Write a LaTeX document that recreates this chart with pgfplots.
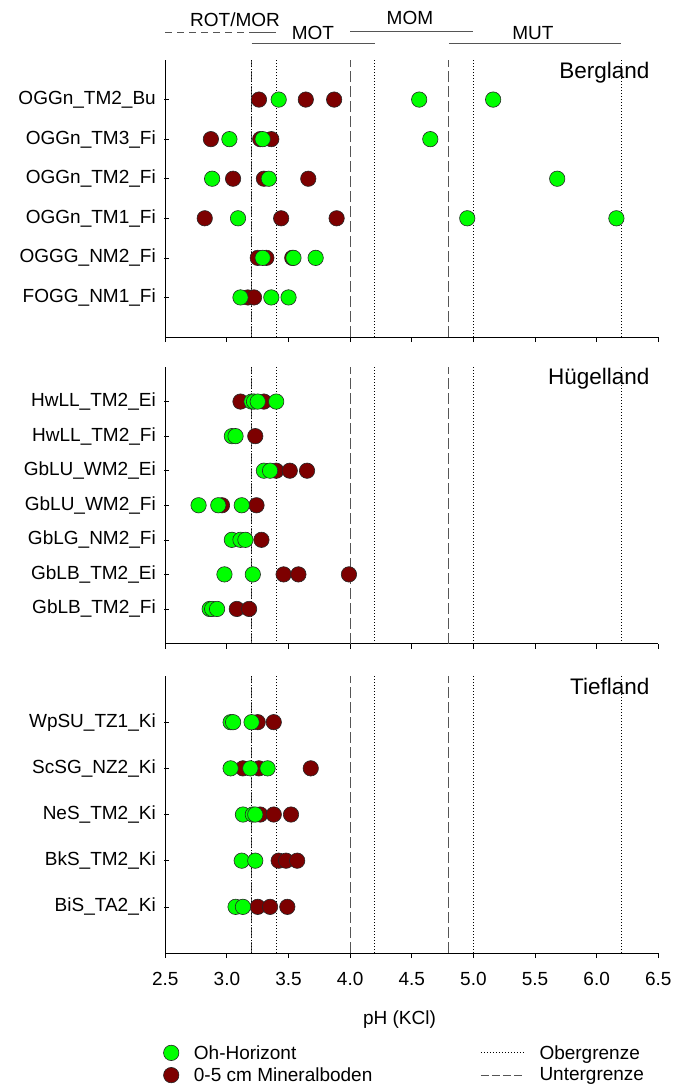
\documentclass[border=0pt]{standalone}
\usepackage{pgfplots}
\pgfplotsset{compat=1.18}
\usepackage{fontspec}
\setmainfont{Liberation Sans}
\definecolor{ohgreen}{RGB}{0,255,0}
\definecolor{minred}{RGB}{125,0,0}
\definecolor{ugray}{RGB}{85,85,85}
\newcommand{\fs}{\fontsize{19}{22}\selectfont}
\newcommand{\fb}{\fontsize{22.5}{26}\selectfont}
\pgfplotsset{
  panel/.style={
    scale only axis, width=493pt,
    xmin=2.5, xmax=6.5,
    axis x line*=bottom, axis y line*=left,
    axis line style={-, line width=1pt, black},
    xtick={2.5,3.0,3.5,4.0,4.5,5.0,5.5,6.0,6.5},
    tick align=inside, major tick length=5pt,
    xtick style={yshift=-5pt, line width=0.9pt, black},
    ytick style={xshift=-1pt, line width=0.6pt, black},
    tick label style={font=\fs},
    yticklabel style={xshift=-6pt},
    clip=false,
  },
  minpt/.style={only marks, mark=*, mark size=7.7pt, mark options={fill=minred, draw=black!85, line width=0.6pt}, forget plot},
  ohpt/.style={only marks, mark=*, mark size=7.7pt, mark options={fill=ohgreen, draw=black!85, line width=0.6pt}, forget plot},
  ober/.style={black, line width=0.9pt, dash pattern=on 1pt off 2pt, forget plot},
  unter/.style={ugray, line width=1.1pt, dash pattern=on 11pt off 4pt, forget plot},
  hdr/.style={ugray, line width=1.1pt, forget plot},
  oberleg/.style={legend image code/.code={\draw[black, line width=0.9pt, dash pattern=on 1pt off 2pt] (0pt,0pt) -- (43pt,0pt);}},
  unterleg/.style={legend image code/.code={\draw[ugray, line width=1.1pt, dash pattern=on 8pt off 3pt] (0pt,0pt) -- (43pt,0pt);}},
}
\newcommand{\reflines}[1]{%
  \addplot[unter] coordinates {(3.2,0) (3.2,#1)};
  \addplot[unter] coordinates {(4.0,0) (4.0,#1)};
  \addplot[unter] coordinates {(4.8,0) (4.8,#1)};
  \addplot[ober] coordinates {(3.2,0) (3.2,#1)};
  \addplot[ober] coordinates {(3.4,0) (3.4,#1)};
  \addplot[ober] coordinates {(4.2,0) (4.2,#1)};
  \addplot[ober] coordinates {(5.0,0) (5.0,#1)};
  \addplot[ober] coordinates {(6.2,0) (6.2,#1)};
}
\begin{document}
\begin{tikzpicture}[font=\fs]
\path[use as bounding box] (0pt,0pt) rectangle (673pt,-1090pt);

% ---------------- Bergland ----------------
\begin{axis}[panel, at={(165.3pt,-337pt)}, anchor=south west, height=277pt,
  ymin=0, ymax=7, ytick={1,2,3,4,5,6},
  yticklabels={FOGG\_NM1\_Fi, OGGG\_NM2\_Fi, OGGn\_TM1\_Fi, OGGn\_TM2\_Fi, OGGn\_TM3\_Fi, OGGn\_TM2\_Bu},
  xticklabel=\empty]
\reflines{7}
\addplot[minpt] coordinates {
 (3.26,6) (3.64,6) (3.87,6)
 (2.87,5) (3.27,5) (3.36,5)
 (3.05,4) (3.30,4) (3.66,4)
 (2.82,3) (3.44,3) (3.89,3)
 (3.25,2) (3.32,2) (3.53,2)
 (3.17,1) (3.22,1)
};
\addplot[ohpt] coordinates {
 (3.42,6) (4.56,6) (5.16,6)
 (3.02,5) (3.29,5) (4.65,5)
 (2.88,4) (3.34,4) (5.68,4)
 (3.09,3) (4.95,3) (6.16,3)
 (3.29,2) (3.54,2) (3.72,2)
 (3.11,1) (3.36,1) (3.50,1)
};
% header zones
\addplot[hdr, dash pattern=on 7pt off 5pt] coordinates {(2.5,7.70) (3.2,7.70)};
\addplot[hdr] coordinates {(3.2,7.70) (3.4,7.70)};
\addplot[hdr] coordinates {(3.2,7.42) (4.2,7.42)};
\addplot[hdr] coordinates {(4.0,7.73) (5.0,7.73)};
\addplot[hdr] coordinates {(4.8,7.42) (6.2,7.42)};
\node[anchor=base, font=\fs] at (axis cs:3.066,7.85) {ROT/MOR};
\node[anchor=base, font=\fs] at (axis cs:3.698,7.523) {MOT};
\node[anchor=base, font=\fs] at (axis cs:4.485,7.89) {MOM};
\node[anchor=base, font=\fs] at (axis cs:5.483,7.523) {MUT};
\node[anchor=base east, font=\fb] at (rel axis cs:0.989,0.935) {Bergland};
\end{axis}

% ---------------- Huegelland ----------------
\begin{axis}[panel, at={(165.3pt,-643.5pt)}, anchor=south west, height=276.5pt,
  ymin=0, ymax=8, ytick={1,2,3,4,5,6,7},
  yticklabels={GbLB\_TM2\_Fi, GbLB\_TM2\_Ei, GbLG\_NM2\_Fi, GbLU\_WM2\_Fi, GbLU\_WM2\_Ei, HwLL\_TM2\_Fi, HwLL\_TM2\_Ei},
  xticklabel=\empty]
\reflines{8}
\addplot[minpt] coordinates {
 (3.11,7) (3.30,7)
 (3.23,6)
 (3.40,5) (3.51,5) (3.65,5)
 (2.96,4) (3.24,4)
 (3.28,3)
 (3.46,2) (3.58,2) (3.99,2)
 (3.08,1) (3.18,1)
};
\addplot[ohpt] coordinates {
 (3.20,7) (3.22,7) (3.25,7) (3.40,7)
 (3.04,6) (3.07,6)
 (3.30,5) (3.35,5)
 (2.77,4) (2.93,4) (3.12,4)
 (3.04,3) (3.11,3) (3.15,3)
 (2.98,2) (3.21,2)
 (2.86,1) (2.88,1) (2.92,1)
};
\node[anchor=base east, font=\fb] at (rel axis cs:0.989,0.935) {Hügelland};
\end{axis}

% ---------------- Tiefland ----------------
\begin{axis}[panel, at={(165.3pt,-953pt)}, anchor=south west, height=277pt,
  ymin=0, ymax=6, ytick={1,2,3,4,5},
  yticklabels={BiS\_TA2\_Ki, BkS\_TM2\_Ki, NeS\_TM2\_Ki, ScSG\_NZ2\_Ki, WpSU\_TZ1\_Ki},
  /pgf/number format/fixed, /pgf/number format/fixed zerofill,
  /pgf/number format/precision=1, /pgf/number format/assume math mode=true,
  xticklabel style={yshift=-16pt},
  xlabel={pH (KCl)},
  xlabel style={font=\fs, at={(axis description cs:0.475,0)}, anchor=center, yshift=-67pt},
  legend columns=2, transpose legend,
  legend style={at={(axis description cs:-0.004,-0.325)}, anchor=north west,
    draw=none, fill=none, inner sep=0pt, font=\fs, row sep=3pt,
    nodes={inner sep=2pt},
    /tikz/every odd column/.append style={column sep=13pt},
    /tikz/every even column/.append style={column sep=106pt},
    /tikz/column 3/.append style={column sep=5pt}},
  legend cell align=left]
\addlegendimage{only marks, mark=*, mark size=7.7pt, mark options={fill=ohgreen, draw=black!85, line width=0.6pt}}
\addlegendentry{Oh-Horizont}
\addlegendimage{only marks, mark=*, mark size=7.7pt, mark options={fill=minred, draw=black!85, line width=0.6pt}}
\addlegendentry{0-5 cm Mineralboden}
\addlegendimage{oberleg}
\addlegendentry{Obergrenze}
\addlegendimage{unterleg}
\addlegendentry{Untergrenze}
\reflines{6}
\addplot[minpt] coordinates {
 (3.25,5) (3.38,5)
 (3.13,4) (3.26,4) (3.68,4)
 (3.27,3) (3.38,3) (3.52,3)
 (3.42,2) (3.48,2) (3.57,2)
 (3.25,1) (3.35,1) (3.49,1)
};
\addplot[ohpt] coordinates {
 (3.03,5) (3.05,5) (3.20,5)
 (3.03,4) (3.19,4) (3.33,4)
 (3.13,3) (3.21,3) (3.23,3)
 (3.12,2) (3.23,2)
 (3.07,1) (3.13,1)
};
\node[anchor=base east, font=\fb] at (rel axis cs:0.989,0.935) {Tiefland};
\end{axis}
\end{tikzpicture}
\end{document}
